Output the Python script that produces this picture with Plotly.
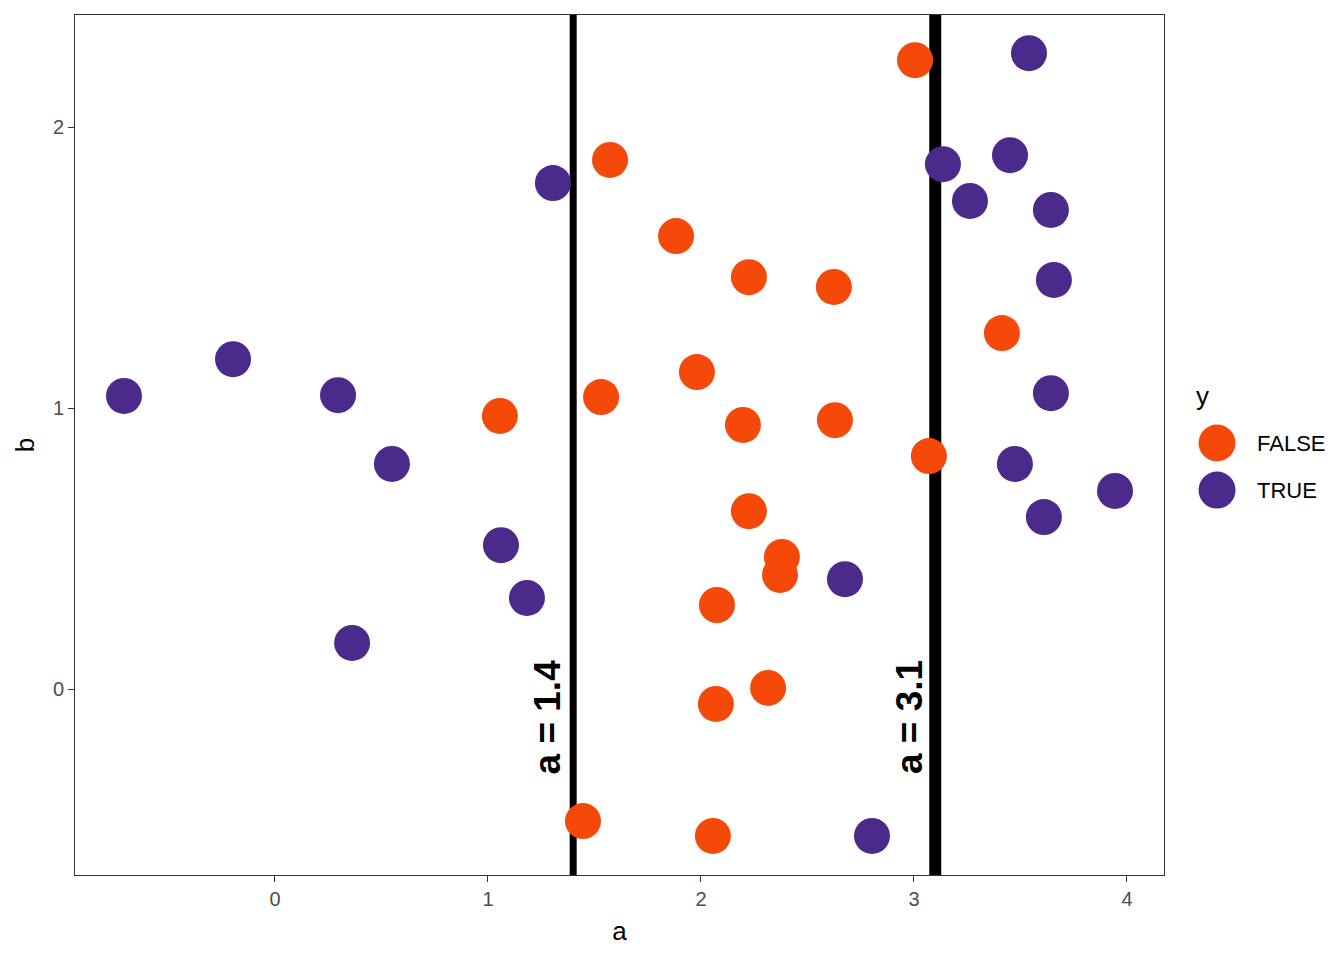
import plotly.graph_objects as go

# points
true_a = [-0.709, -0.197, 0.296, 0.549, 0.362, 1.061, 1.183, 1.305, 2.676, 2.803,
          3.136, 3.263, 3.451, 3.540, 3.643, 3.657, 3.643, 3.474, 3.610, 3.944]
true_b = [1.043, 1.174, 1.046, 0.801, 0.164, 0.512, 0.324, 1.801, 0.391, -0.523,
          1.868, 1.737, 1.900, 2.263, 1.705, 1.456, 1.053, 0.801, 0.612, 0.705]

false_a = [3.005, 1.573, 1.883, 2.225, 2.624, 3.413, 1.981, 1.531, 1.056, 2.197,
           2.629, 3.070, 2.225, 2.380, 2.371, 2.075, 2.315, 2.070, 1.446, 2.056]
false_b = [2.238, 1.883, 1.612, 1.466, 1.431, 1.267, 1.128, 1.039, 0.972, 0.940,
           0.957, 0.829, 0.633, 0.470, 0.406, 0.299, 0.004, -0.053, -0.470, -0.523]

cut_points = [1.4, 3.1]
cut_widths = [7, 12]
cut_labels = ["a = 1.4", "a = 3.1"]

categories = ["FALSE", "TRUE"]
colors = {"FALSE": "#F5490A", "TRUE": "#4B2A8B"}

FONT = "Liberation Sans, Arial"

fig = go.Figure()

fig.add_trace(go.Scatter(x=false_a, y=false_b, mode="markers", name="FALSE",
                         marker=dict(color=colors["FALSE"], size=36, line=dict(width=0))))
fig.add_trace(go.Scatter(x=true_a, y=true_b, mode="markers", name="TRUE",
                         marker=dict(color=colors["TRUE"], size=36, line=dict(width=0))))

# vertical cut lines (under the points) + rotated labels
for cut, w, label in zip(cut_points, cut_widths, cut_labels):
    fig.add_vline(x=cut, line=dict(color="black", width=w), layer="below")
    fig.add_annotation(x=cut, y=-0.3, xref="x", yref="y", text="<b>" + label + "</b>",
                       textangle=-90, showarrow=False, xanchor="right", yanchor="bottom",
                       xshift=-3, yshift=-3, font=dict(family=FONT, size=37, color="black"))

# ggplot-style legend (plotly caps legend marker size, so draw keys as shapes)
fig.add_annotation(x=1.028, y=0.557, xref="paper", yref="paper", text="y",
                   showarrow=False, xanchor="left", yanchor="middle",
                   font=dict(family=FONT, size=26, color="black"))
for i, cat in enumerate(categories):
    ky = 0.5023 - i * 0.0547
    fig.add_shape(type="circle", xref="paper", yref="paper",
                  xsizemode="pixel", ysizemode="pixel", xanchor=1.0487, yanchor=ky,
                  x0=-18.5, x1=18.5, y0=-18.5, y1=18.5,
                  fillcolor=colors[cat], line=dict(width=0))
    fig.add_annotation(x=1.0836, y=ky, xref="paper", yref="paper", text=cat,
                       showarrow=False, xanchor="left", yanchor="middle",
                       font=dict(family=FONT, size=22, color="black"))

axis_style = dict(showgrid=False, zeroline=False, showline=True, mirror=True,
                  linecolor="#333333", linewidth=1, ticks="outside", ticklen=6,
                  tickcolor="#333333", tickwidth=1,
                  tickfont=dict(family=FONT, size=20, color="#4D4D4D"),
                  title_font=dict(family=FONT, size=26, color="black"))

fig.update_xaxes(range=[-0.939, 4.174], tickvals=[0, 1, 2, 3, 4], title_text="a",
                 title_standoff=12, **axis_style)
fig.update_yaxes(range=[-0.662, 2.399], tickvals=[0, 1, 2], title_text="b",
                 title_standoff=10, **axis_style)

fig.update_layout(
    width=1344, height=960,
    margin=dict(l=67, r=188, t=7, b=93),
    plot_bgcolor="white", paper_bgcolor="white",
    showlegend=False,
    font=dict(family=FONT),
)

fig.write_html("out.html")
